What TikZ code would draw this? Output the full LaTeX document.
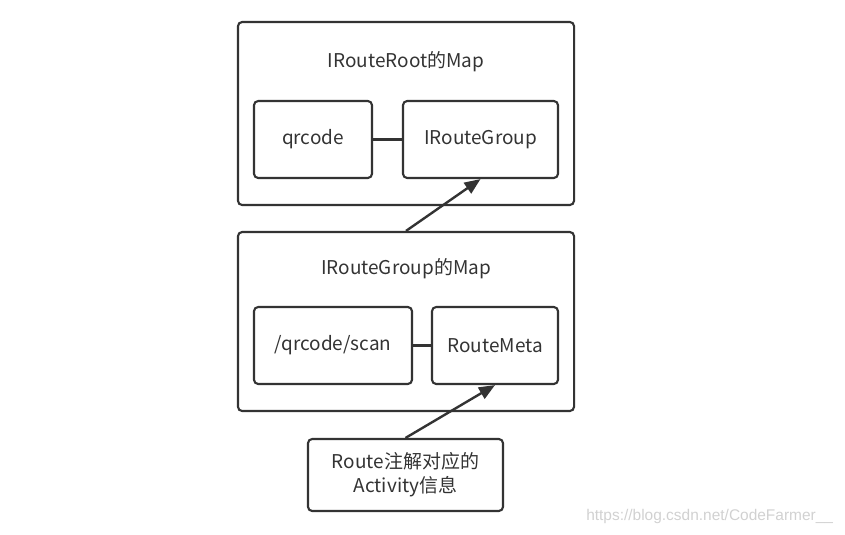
\documentclass[tikz,border=0pt]{standalone}
\usepackage{fontspec}
\setmainfont{Noto Sans CJK SC}
\newfontfamily\markfont{Liberation Sans}
\usetikzlibrary{arrows.meta}
\definecolor{ink}{HTML}{333333}
\begin{document}
\begin{tikzpicture}[x=0.025cm, y=-0.025cm, >={Triangle[length=0.4cm,width=0.32cm]},
	box/.style={draw=ink, line width=1.5pt, rounded corners=3pt, text=ink, align=center,
		font=\fontsize{13.5}{17}\selectfont},
	outer/.style={box, minimum width=8.4cm, inner sep=0pt},
	link/.style={ink, line width=1.7pt}]
				\useasboundingbox (0,0) rectangle (845,534);
				% top map
				\node[outer, minimum height=4.575cm] (rootmap) at (406,113.5) {};
				\node[text=ink, font=\fontsize{13.5}{17}\selectfont] (roottitle) at (406,62) {IRouteRoot的Map};
				\node[box, minimum width=2.95cm, minimum height=1.925cm] (qr) at (313,139.5) {qrcode};
				\node[box, minimum width=3.875cm, minimum height=1.925cm] (grp) at (480.5,139.5) {IRouteGroup};
				\draw[link] (qr.east) -- (grp.west);
				% group map
				\node[outer, minimum height=4.475cm] (grpmap) at (406,321.5) {};
				\node[text=ink, font=\fontsize{13.5}{17}\selectfont] (grptitle) at (406,269) {IRouteGroup的Map};
				\node[box, minimum width=3.95cm, minimum height=1.925cm] (path) at (333,345.5) {/qrcode/scan};
				\node[box, minimum width=3.15cm, minimum height=1.925cm] (meta) at (495,345.5) {RouteMeta};
				\draw[link] (path.east) -- (meta.west);
				% route info
				\node[box, minimum width=4.875cm, minimum height=1.8cm] (info) at (405.5,475)
				{Route注解对应的\\Activity信息};
				\draw[->, link] (grpmap.north) -- (grp.south);
				\draw[->, link] (info.north) -- (meta.south);
				\node[anchor=east, text=black!18, font=\markfont\fontsize{11}{13}\selectfont] (mark) at (838,516)
				{https://blog.csdn.net/CodeFarmer\_\_};
			\end{tikzpicture}
\end{document}
